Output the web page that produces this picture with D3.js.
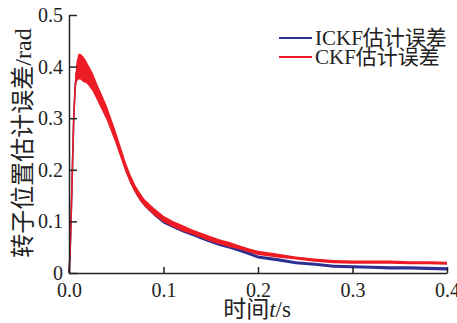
<!DOCTYPE html>
<html>
<head>
<meta charset="utf-8">
<script src="https://cdn.jsdelivr.net/npm/d3@7"></script>
<style>
  body { margin: 0; background: #fff; }
  text { font-family: 'Liberation Serif', 'Times New Roman', 'Noto Sans CJK SC', serif; fill: #222; }
</style>
</head>
<body>
<div id="screen"></div>
<script>
// temps (s)
const tVals = [0, 0.001, 0.002, 0.003, 0.004, 0.005, 0.0065, 0.008, 0.01, 0.012, 0.015, 0.018, 0.02, 0.025, 0.03, 0.035, 0.04, 0.045, 0.05, 0.055, 0.06, 0.065, 0.07, 0.075, 0.08, 0.09, 0.1, 0.11, 0.12, 0.13, 0.14, 0.15, 0.16, 0.17, 0.18, 0.19, 0.2, 0.22, 0.24, 0.26, 0.28, 0.3, 0.32, 0.34, 0.36, 0.38, 0.4]
// erreur CKF (rad) et demi-largeur du bruit
const ckfErr = [0, 0.03, 0.09, 0.16, 0.23, 0.3, 0.36, 0.39, 0.4, 0.4, 0.395, 0.39, 0.385, 0.37, 0.35, 0.33, 0.31, 0.285, 0.26, 0.232, 0.205, 0.182, 0.163, 0.148, 0.136, 0.119, 0.105, 0.095, 0.087, 0.08, 0.073, 0.066, 0.06, 0.055, 0.05, 0.044, 0.039, 0.034, 0.029, 0.025, 0.022, 0.021, 0.021, 0.021, 0.02, 0.02, 0.019]
const ckfSpread = [0, 0, 0, 0, 0, 0, 0.01, 0.02, 0.025, 0.025, 0.025, 0.022, 0.02, 0.018, 0.016, 0.015, 0.014, 0.013, 0.012, 0.011, 0.01, 0.009, 0.008, 0.008, 0.007, 0.007, 0.006, 0.006, 0.006, 0.005, 0.005, 0.005, 0.005, 0.005, 0.004, 0.004, 0.004, 0.004, 0.003, 0.003, 0.003, 0.003, 0.003, 0.003, 0.003, 0.003, 0.003]
// erreur ICKF (rad)
const ickfErr = [0, 0.03, 0.09, 0.16, 0.23, 0.3, 0.36, 0.39, 0.4, 0.4, 0.395, 0.39, 0.385, 0.37, 0.35, 0.33, 0.308, 0.283, 0.258, 0.23, 0.202, 0.179, 0.16, 0.145, 0.133, 0.115, 0.1, 0.09, 0.082, 0.075, 0.068, 0.061, 0.055, 0.05, 0.044, 0.038, 0.031, 0.026, 0.02, 0.017, 0.013, 0.012, 0.011, 0.01, 0.01, 0.009, 0.008]
const ickfSpread = [0, 0, 0, 0, 0, 0, 0.008, 0.015, 0.02, 0.02, 0.02, 0.018, 0.016, 0.014, 0.012, 0.01, 0.009, 0.008, 0.007, 0.006, 0.005, 0.005, 0.004, 0.004, 0.004, 0.004, 0.004, 0.003, 0.003, 0.003, 0.003, 0.003, 0.003, 0.003, 0.003, 0.003, 0.003, 0.003, 0.003, 0.003, 0.003, 0.003, 0.003, 0.003, 0.003, 0.003, 0.003]

const xTicks = [0, 0.1, 0.2, 0.3, 0.4]
const yTicks = [0, 0.1, 0.2, 0.3, 0.4, 0.5]
const seriesNames = ['ICKF估计误差', 'CKF估计误差']
const seriesColors = ['#2e3192', '#ed1c24']

const width = 457
const height = 323
const margin = { top: 15, right: 10, bottom: 50, left: 69 }

const svg = d3.select('#screen').append('svg')
  .attr('width', width)
  .attr('height', height)

const x = d3.scaleLinear().domain([0, 0.4]).range([margin.left, width - margin.right])
const y = d3.scaleLinear().domain([0, 0.5]).range([height - margin.bottom, margin.top])

const series = [
  { vals: ickfErr, spread: ickfSpread, color: seriesColors[0] },
  { vals: ckfErr, spread: ckfSpread, color: seriesColors[1] }
]

series.forEach(s => {
  const pts = tVals.map((t, i) => ({ t, v: s.vals[i], s: s.spread[i] }))
  svg.append('path')
    .datum(pts)
    .attr('fill', s.color)
    .attr('d', d3.area().x(d => x(d.t)).y0(d => y(d.v - d.s)).y1(d => y(d.v + d.s)))
  svg.append('path')
    .datum(pts)
    .attr('fill', 'none')
    .attr('stroke', s.color)
    .attr('stroke-width', 1.6)
    .attr('d', d3.line().x(d => x(d.t)).y(d => y(d.v)))
})

// axes
const xAxis = svg.append('g')
  .attr('transform', `translate(0,${y(0)})`)
  .call(d3.axisBottom(x).tickValues(xTicks).tickFormat(d3.format('.1f')).tickSizeInner(-6).tickSizeOuter(0).tickPadding(10))
const yAxis = svg.append('g')
  .attr('transform', `translate(${x(0)},0)`)
  .call(d3.axisLeft(y).tickValues(yTicks).tickFormat(d => d === 0 ? '0' : d3.format('.1f')(d)).tickSizeInner(-8).tickSizeOuter(0).tickPadding(6))

;[xAxis, yAxis].forEach(g => {
  g.attr('font-family', null)
  g.select('.domain').attr('stroke', '#222').attr('stroke-width', 1.5)
  g.selectAll('.tick line').attr('stroke', '#222').attr('stroke-width', 1.5)
  g.selectAll('text')
    .attr('font-size', '20px')
    .attr('fill', '#222')
})

// titres des axes
svg.append('text')
  .attr('x', 257)
  .attr('y', 317)
  .attr('text-anchor', 'middle')
  .attr('font-size', '23px')
  .html('时间<tspan font-style="italic">t</tspan>/s')

svg.append('text')
  .attr('transform', 'translate(23,143) rotate(-90)')
  .attr('text-anchor', 'middle')
  .attr('dominant-baseline', 'central')
  .attr('font-size', '24px')
  .text('转子位置估计误差/rad')

// légende
const legend = svg.append('g').attr('transform', 'translate(279,38)')
seriesNames.forEach((name, i) => {
  legend.append('line')
    .attr('x1', 0).attr('x2', 33)
    .attr('y1', i * 19).attr('y2', i * 19)
    .attr('stroke', seriesColors[i])
    .attr('stroke-width', 2)
  legend.append('text')
    .attr('x', 36)
    .attr('y', i * 19 + 7)
    .attr('font-size', '21px')
    .text(name)
})
</script>
</body>
</html>
